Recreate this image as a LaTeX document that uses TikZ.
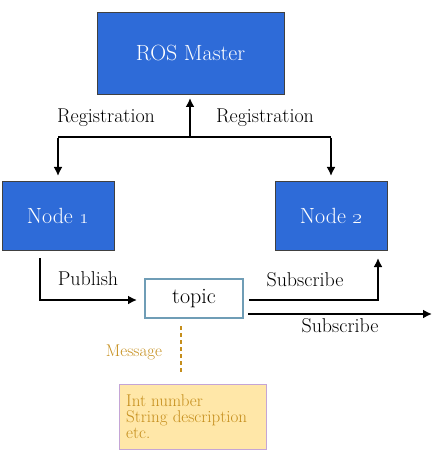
\documentclass[tikz,border=0pt]{standalone}
\usetikzlibrary{arrows.meta}
\definecolor{nodeblue}{HTML}{2E6BD8}
\definecolor{topicedge}{HTML}{6F9DB6}
\definecolor{msgfill}{HTML}{FFE7A8}
\definecolor{msgedge}{HTML}{C4A5D6}
\definecolor{msgtext}{HTML}{C58E1C}
\begin{document}
\begin{tikzpicture}[x=1pt,y=-1pt,
  bluebox/.style={draw=black!75,line width=0.8pt,fill=nodeblue,text=white,inner sep=0pt,
    font=\fontsize{22}{26}\selectfont},
  lbl/.style={inner sep=0pt,font=\fontsize{20}{24}\selectfont},
  conn/.style={line width=1.8pt,-{Latex[length=9pt,width=9pt]}},
  plainline/.style={line width=1.8pt}]
\useasboundingbox (0,0) rectangle (436,454);
% boxes
\node[bluebox,minimum width=187pt,minimum height=82pt] (master) at (190.5,53) {ROS Master};
\node[bluebox,minimum width=112pt,minimum height=69pt] (n1) at (58,215.5) {Node \oldstylenums{1}};
\node[bluebox,minimum width=112pt,minimum height=69pt] (n2) at (331,215.5) {Node \oldstylenums{2}};
\node[draw=topicedge,line width=1.6pt,fill=white,minimum width=98pt,minimum height=39pt,inner sep=0pt,
  font=\fontsize{22}{26}\selectfont] (topic) at (194,298.5) {topic};
\node[draw=msgedge,line width=1pt,fill=msgfill,minimum width=147pt,minimum height=65pt,inner sep=0pt] (msg) at (192.5,417) {};
\node[anchor=north west,align=left,inner sep=0pt,text=msgtext,font=\fontsize{17}{16}\selectfont] (msgtxt) at (126,394.5)
  {Int number\\String description\\etc.};
% registration connectors
\coordinate (junc) at (190,137);
\coordinate (jl) at (58,137);
\coordinate (jr) at (331,137);
\draw[plainline] (jl) -- (jr);
\draw[conn] (junc) -- (190,98);
\draw[conn] ([yshift=-0.9pt]jl) -- (58,176);
\draw[conn] ([yshift=-0.9pt]jr) -- (331,176);
\node[lbl] (reg1) at (106,118) {Registration};
\node[lbl] (reg2) at (265,118) {Registration};
% publish
\coordinate (pubstart) at (40,258);
\draw[conn] (pubstart) |- (137,300);
\node[lbl] (pub) at (88,279) {Publish};
% subscribe
\coordinate (sub1start) at (249,300);
\draw[conn] (sub1start) -| (378,258);
\node[lbl] (sub1) at (305,280) {Subscribe};
\coordinate (sub2start) at (248,314);
\draw[conn] (sub2start) -- (432,314);
\node[lbl] (sub2) at (340,326) {Subscribe};
% message
\coordinate (mtop) at (181,326);
\coordinate (mbot) at (181,374);
\draw[msgtext,line width=2.2pt,dash pattern=on 4pt off 3pt] (mtop) -- (mbot);
\node[text=msgtext,inner sep=0pt,font=\fontsize{17}{20}\selectfont] (msglbl) at (134,352) {Message};
\end{tikzpicture}
\end{document}
